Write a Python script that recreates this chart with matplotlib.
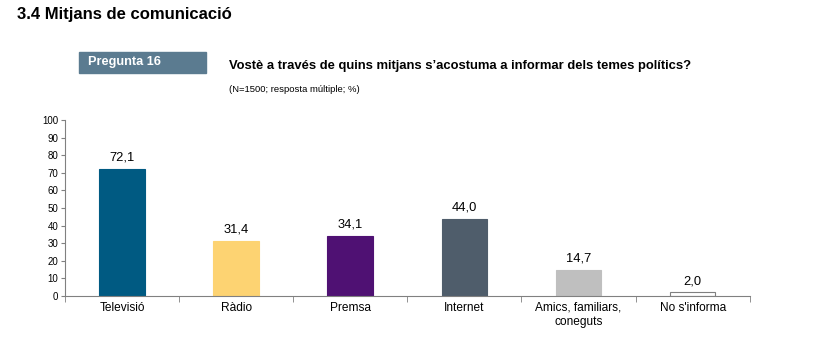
import numpy as np
import matplotlib.pyplot as plt
from matplotlib.patches import Rectangle

plt.rcParams['font.family'] = ['Liberation Sans', 'DejaVu Sans']

categories = ["Televisió", "Ràdio", "Premsa", "Internet", "Amics, familiars,\nconeguts", "No s'informa"]
values = [72.1, 31.4, 34.1, 44.0, 14.7, 2.0]
colors = ["#005a82", "#fdd372", "#4f1173", "#4f5d6b", "#bfbfbf", "#ffffff"]
edges = ["#005a82", "#fdd372", "#4f1173", "#4f5d6b", "#bfbfbf", "#7f7f7f"]

fig = plt.figure(figsize=(8.17, 3.56), dpi=100)
ax = fig.add_axes([0.0796, 0.1685, 0.838, 0.494])

x = np.arange(len(categories))
ax.bar(x, values, width=0.4, color=colors, edgecolor=edges, linewidth=0.8)
for xi, v in zip(x, values):
    ax.text(xi, v + 3, f"{v:.1f}".replace(".", ","), ha="center", va="bottom", fontsize=9.3)

ax.set_xlim(-0.5, len(categories) - 0.5)
ax.set_ylim(0, 100)
ax.set_yticks(range(0, 101, 10))
ax.tick_params(axis="y", labelsize=7, length=3, color="#808080", pad=2)
ax.set_xticks(x)
ax.set_xticklabels(categories, fontsize=8.6, linespacing=1.3)
ax.tick_params(axis="x", length=0, pad=4)
# boundary ticks between categories
ax.set_xticks(np.arange(-0.5, len(categories)), minor=True)
ax.tick_params(axis="x", which="minor", length=4, color="#808080", direction="out")
for s in ["top", "right"]:
    ax.spines[s].set_visible(False)
for s in ["left", "bottom"]:
    ax.spines[s].set_color("#808080")
    ax.spines[s].set_linewidth(0.8)

fig.text(17 / 817, 1 - 15 / 356, "3.4 Mitjans de comunicació", fontsize=12, fontweight="bold", va="center")
fig.patches.append(Rectangle((79 / 817, 1 - 73 / 356), 127 / 817, 21 / 356,
                             transform=fig.transFigure, color="#5b7b90"))
fig.text(88 / 817, 1 - 62 / 356, "Pregunta 16", fontsize=9.2, fontweight="bold", color="white", va="center")
fig.text(229 / 817, 1 - 66 / 356, "Vostè a través de quins mitjans s’acostuma a informar dels temes polítics?",
         fontsize=9.35, fontweight="bold", va="center")
fig.text(229 / 817, 1 - 89 / 356, "(N=1500; resposta múltiple; %)", fontsize=6.8, va="center")

fig.savefig("out.png", dpi=100)
